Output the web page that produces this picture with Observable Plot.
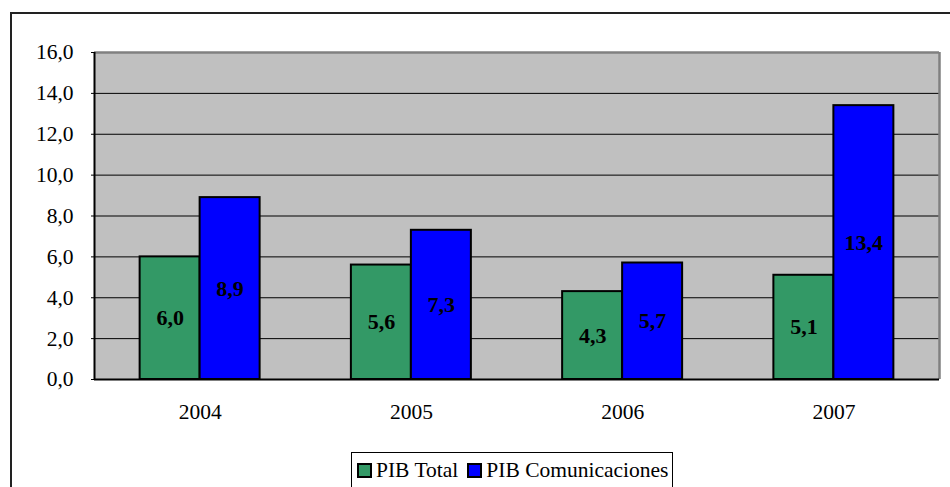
<!DOCTYPE html>
<html>
<head>
<meta charset="utf-8">
<script src="https://cdn.jsdelivr.net/npm/d3@7"></script>
<script src="https://cdn.jsdelivr.net/npm/@observablehq/plot@0.6"></script>
<style>
  html, body { margin: 0; padding: 0; background: #fff; width: 950px; height: 487px; overflow: hidden; }
  #outer { position: absolute; left: 10px; top: 12px; width: 1000px; height: 600px; border: 2px solid #222; box-sizing: border-box; }
  #chart { position: absolute; left: 0; top: 0; }
  #legend { position: absolute; left: 351px; top: 452px; width: 322px; height: 40px; border: 1px solid #000; box-sizing: border-box; background: #fff;
            font-family: "Liberation Serif", "Times New Roman", serif; font-size: 21.5px; color: #000; display: flex; align-items: flex-start; padding-top: 5px; padding-left: 5px; gap: 9px; }
  .item { display: flex; align-items: center; gap: 4px; white-space: nowrap; }
  .sw { width: 11px; height: 11px; border: 2px solid #000; display: inline-block; }
</style>
</head>
<body>
<div id="outer"></div>
<div id="chart"></div>
<div id="legend"></div>
<script>
const years = [2004, 2005, 2006, 2007];
const pibTotal = [6.0, 5.6, 4.3, 5.1];
const pibComunicaciones = [8.9, 7.3, 5.7, 13.4];
const seriesNames = ["PIB Total", "PIB Comunicaciones"];
const seriesColors = ["#339966", "#0000FF"];
const yTicks = [0, 2, 4, 6, 8, 10, 12, 14, 16];

const fmt = v => v.toFixed(1).replace(".", ",");
const barW = 0.284; // bar width in year units
const rows = [];
years.forEach((y, i) => {
  rows.push({year: y, series: seriesNames[0], value: pibTotal[i], side: 0});
  rows.push({year: y, series: seriesNames[1], value: pibComunicaciones[i], side: 1});
});

const plot = Plot.plot({
  width: 950,
  height: 440,
  marginLeft: 94,
  marginRight: 11,
  marginTop: 52,
  marginBottom: 61,
  style: {fontFamily: "Liberation Serif, Times New Roman, serif", fontSize: "21.5px", color: "#000", background: "transparent"},
  x: {domain: [2003.5, 2007.5], ticks: years, tickFormat: "d", tickSize: 0, tickPadding: 24, label: null},
  y: {domain: [0, 16], ticks: yTicks, tickFormat: fmt, tickSize: 3, tickPadding: 18, label: null},
  color: {domain: seriesNames, range: seriesColors},
  marks: [
    Plot.frame({fill: "#C0C0C0", stroke: "none"}),
    Plot.ruleY(yTicks.slice(1, -1), {stroke: "#000", strokeWidth: 1}),
    Plot.ruleY([16], {stroke: "#808080", strokeWidth: 2.5}),
    Plot.ruleX([2007.5], {stroke: "#808080", strokeWidth: 2.5}),
    Plot.rectY(rows, {
      x1: d => d.side === 0 ? d.year - barW : d.year,
      x2: d => d.side === 0 ? d.year : d.year + barW,
      y1: 0, y2: "value",
      fill: "series", stroke: "#000", strokeWidth: 2
    }),
    Plot.ruleY([0], {stroke: "#000", strokeWidth: 2}),
    Plot.ruleX([2003.5], {stroke: "#000", strokeWidth: 2}),
    Plot.text(rows, {
      x: d => d.side === 0 ? d.year - barW / 2 : d.year + barW / 2,
      y: d => d.value / 2,
      text: d => fmt(d.value),
      fontWeight: "bold", fontSize: 22, fill: "#000"
    })
  ]
});
document.getElementById("chart").appendChild(plot);

const legend = document.getElementById("legend");
seriesNames.forEach((name, i) => {
  const it = document.createElement("span");
  it.className = "item";
  const sw = document.createElement("span");
  sw.className = "sw";
  sw.style.background = seriesColors[i];
  it.appendChild(sw);
  it.appendChild(document.createTextNode(name));
  legend.appendChild(it);
});
</script>
</body>
</html>
